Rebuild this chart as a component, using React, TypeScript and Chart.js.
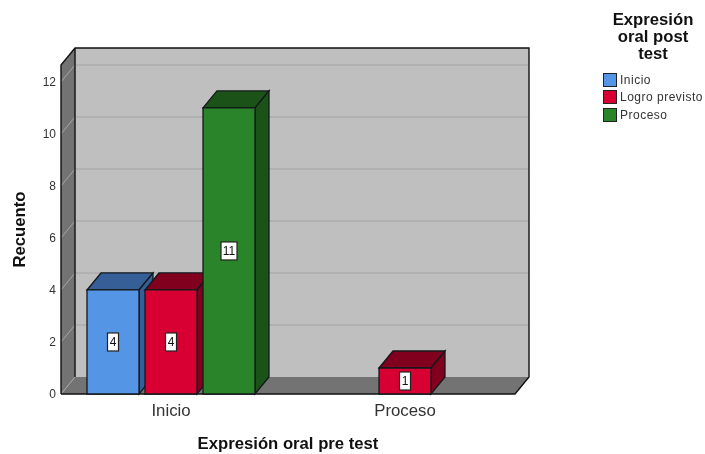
import React, { useEffect, useRef } from "react";
import { Chart, registerables } from "chart.js";

Chart.register(...registerables);

const categories = ["Inicio", "Proceso"];
const seriesNames = ["Inicio", "Logro previsto", "Proceso"];
const inicioValues = [4, null];
const logroValues = [4, 1];
const procesoValues = [11, null];
const yTickValues = [0, 2, 4, 6, 8, 10, 12];
const frontColors = ["#5595e6", "#d80032", "#2a8429"];
const shadeColors = ["#355f96", "#80001e", "#1a5217"];
const legendTitle = ["Expresión", "oral post", "test"];
const xTitle = "Expresión oral pre test";
const yTitle = "Recuento";
const FONT = "'Liberation Sans', Arial, sans-serif";

const DX = 14;
const DY = 17;
const INSET = 7;

const polygon = (ctx: CanvasRenderingContext2D, pts: number[][], fill: string, stroke?: string, lw = 1) => {
  ctx.beginPath();
  pts.forEach((p, i) => (i ? ctx.lineTo(p[0], p[1]) : ctx.moveTo(p[0], p[1])));
  ctx.closePath();
  ctx.fillStyle = fill;
  ctx.fill();
  if (stroke) {
    ctx.strokeStyle = stroke;
    ctx.lineWidth = lw;
    ctx.stroke();
  }
};

const wallsPlugin = {
  id: "walls",
  beforeDatasetsDraw(chart: any) {
    const { ctx, chartArea, scales } = chart;
    const l = chartArea.left + INSET;
    const r = chartArea.right - INSET;
    const t = chartArea.top;
    const b = chartArea.bottom;
    ctx.save();
    polygon(ctx, [[l + DX, t - DY], [r + DX, t - DY], [r + DX, b - DY], [l + DX, b - DY]], "#bfbfbf");
    polygon(ctx, [[l, b], [l, t], [l + DX, t - DY], [l + DX, b - DY]], "#737373");
    polygon(ctx, [[l, b], [l + DX, b - DY], [r + DX, b - DY], [r, b]], "#737373");
    scales.y.ticks.forEach((tick: any) => {
      const y = scales.y.getPixelForValue(tick.value);
      if (tick.value > 0) {
        ctx.strokeStyle = "#b1b1b1";
        ctx.lineWidth = 2;
        ctx.beginPath();
        ctx.moveTo(l + DX, y - DY);
        ctx.lineTo(r + DX, y - DY);
        ctx.stroke();
      }
      ctx.strokeStyle = "#a6a6a6";
      ctx.lineWidth = 1;
      ctx.beginPath();
      ctx.moveTo(l, y);
      ctx.lineTo(l + DX, y - DY);
      ctx.stroke();
    });
    ctx.strokeStyle = "#111";
    ctx.lineWidth = 1.4;
    ctx.beginPath();
    ctx.moveTo(l, b);
    ctx.lineTo(l, t);
    ctx.lineTo(l + DX, t - DY);
    ctx.lineTo(r + DX, t - DY);
    ctx.lineTo(r + DX, b - DY);
    ctx.lineTo(r, b);
    ctx.lineTo(l, b);
    ctx.moveTo(l + DX, t - DY);
    ctx.lineTo(l + DX, b - DY);
    ctx.stroke();
    ctx.restore();
  },
  afterDatasetsDraw(chart: any) {
    const { ctx } = chart;
    const stroke = "#14181c";
    ctx.save();
    chart.data.datasets.forEach((ds: any, i: number) => {
      chart.getDatasetMeta(i).data.forEach((bar: any, j: number) => {
        const v = ds.data[j];
        if (v === null || v === undefined) return;
        const hw = bar.width / 2;
        const x0 = bar.x - hw;
        const x1 = bar.x + hw;
        const yT = bar.y;
        const yB = bar.base;
        polygon(ctx, [[x0, yT], [x0 + DX, yT - DY], [x1 + DX, yT - DY], [x1, yT]], shadeColors[i], stroke, 1.3);
        polygon(ctx, [[x1, yT], [x1 + DX, yT - DY], [x1 + DX, yB - DY], [x1, yB]], shadeColors[i], stroke, 1.3);
        polygon(ctx, [[x0, yT], [x1, yT], [x1, yB], [x0, yB]], frontColors[i], stroke, 1.3);
        const cx = bar.x;
        const cy = (yT + yB) / 2;
        ctx.fillStyle = "#fff";
        ctx.strokeStyle = "#222";
        ctx.lineWidth = 1.2;
        const w = String(v).length > 1 ? 16 : 11;
        ctx.fillRect(cx - w / 2, cy - 9, w, 18);
        ctx.strokeRect(cx - w / 2, cy - 9, w, 18);
        ctx.fillStyle = "#111";
        ctx.font = `12px ${FONT}`;
        ctx.textAlign = "center";
        ctx.textBaseline = "middle";
        ctx.fillText(String(v), cx, cy + 0.5);
      });
    });
    ctx.restore();
  },
};

export default function App() {
  const ref = useRef<HTMLCanvasElement>(null);
  useEffect(() => {
    const chart = new Chart(ref.current!, {
      type: "bar",
      plugins: [wallsPlugin],
      data: {
        labels: categories,
        datasets: [inicioValues, logroValues, procesoValues].map((data, i) => ({
          label: seriesNames[i],
          data,
          backgroundColor: frontColors[i],
          borderColor: "#14181c",
          borderWidth: 1,
          categoryPercentage: 0.7436,
          barPercentage: 0.8966,
        })),
      },
      options: {
        responsive: false,
        animation: false,
        layout: { padding: { top: 65, right: 183, bottom: 0, left: 0 } },
        plugins: { legend: { display: false }, tooltip: { enabled: false } },
        scales: {
          x: {
            afterFit: (s: any) => { s.height = 60; },
            grid: { display: false },
            border: { display: false },
            ticks: { color: "#333", font: { family: FONT, size: 16.8 }, padding: -1, maxRotation: 0 },
            title: { display: true, text: xTitle, color: "#111", font: { family: FONT, size: 16.7, weight: "bold" }, padding: { top: 0, bottom: 0 } },
          },
          y: {
            min: 0,
            max: 12.65,
            afterBuildTicks: (s: any) => { s.ticks = yTickValues.map((value) => ({ value })); },
            afterFit: (s: any) => {
              s.width = 54;
              s._computeLabelArea = () => undefined;
            },
            grid: { display: false, drawTicks: false, tickLength: 0 },
            border: { display: false },
            ticks: { stepSize: 2, color: "#333", font: { family: FONT, size: 12 }, padding: -2, labelOffset: 1 },
            title: { display: true, text: yTitle, color: "#111", font: { family: FONT, size: 16.7, weight: "bold" }, padding: { top: 10, bottom: 0 } },
          },
        },
      },
    } as any);
    return () => chart.destroy();
  }, []);
  return (
    <div style={{ position: "absolute", left: 0, top: 0, width: 705, height: 454, fontFamily: FONT }}>
      <canvas ref={ref} width={705} height={454} style={{ display: "block" }} />
      <div style={{ position: "absolute", left: 603, top: 11, width: 100, textAlign: "center", fontWeight: "bold", fontSize: 16.7, lineHeight: "17px", color: "#111" }}>
        {legendTitle.map((t) => <div key={t}>{t}</div>)}
      </div>
      <div style={{ position: "absolute", left: 603, top: 71 }}>
        {seriesNames.map((name, i) => (
          <div key={name} style={{ display: "flex", alignItems: "center", height: 17.5, fontSize: 12, letterSpacing: 0.5, color: "#333", whiteSpace: "nowrap" }}>
            <span style={{ width: 12, height: 12, background: frontColors[i], border: "1px solid #222", marginRight: 3, boxSizing: "content-box" }} />
            {name}
          </div>
        ))}
      </div>
    </div>
  );
}
